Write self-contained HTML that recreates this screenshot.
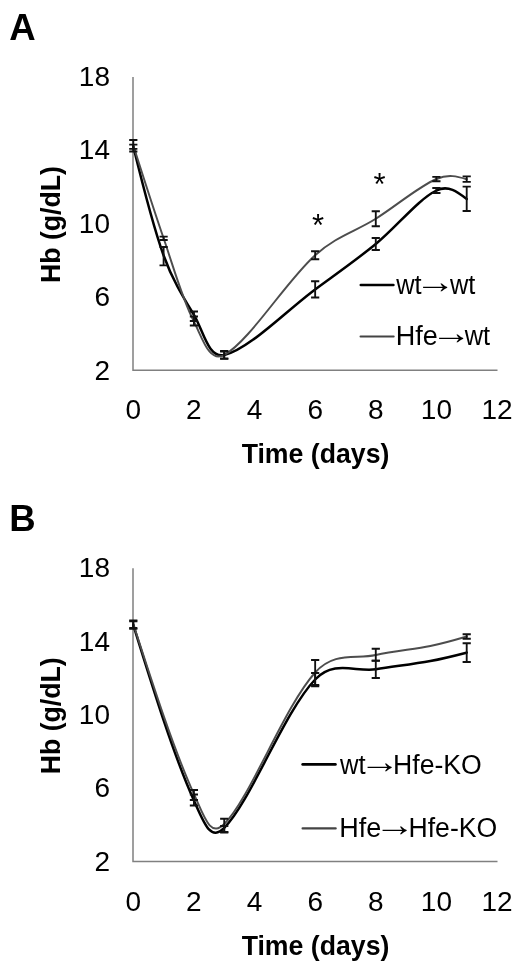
<!DOCTYPE html>
<html><head><meta charset="utf-8"><title>Figure</title>
<style>html,body{margin:0;padding:0;background:#fff}svg{display:block}</style></head>
<body>
<svg width="520" height="967" viewBox="0 0 520 967" font-family="'Liberation Sans', Arial, 'DejaVu Sans', sans-serif">
<rect width="520" height="967" fill="#fff"/>
<path d="M133.0,77.0V370.3H497.5" fill="none" stroke="#808080" stroke-width="1.5"/>
<text x="9.2" y="39.6" font-size="36.6" font-weight="bold" fill="#000">A</text>
<text x="110" y="85.7" font-size="28" text-anchor="end" fill="#000">18</text>
<text x="110" y="159.2" font-size="28" text-anchor="end" fill="#000">14</text>
<text x="110" y="232.6" font-size="28" text-anchor="end" fill="#000">10</text>
<text x="110" y="306.1" font-size="28" text-anchor="end" fill="#000">6</text>
<text x="110" y="379.5" font-size="28" text-anchor="end" fill="#000">2</text>
<text x="133.3" y="419.3" font-size="28" text-anchor="middle" fill="#000">0</text>
<text x="193.9" y="419.3" font-size="28" text-anchor="middle" fill="#000">2</text>
<text x="254.5" y="419.3" font-size="28" text-anchor="middle" fill="#000">4</text>
<text x="315.2" y="419.3" font-size="28" text-anchor="middle" fill="#000">6</text>
<text x="375.8" y="419.3" font-size="28" text-anchor="middle" fill="#000">8</text>
<text x="436.4" y="419.3" font-size="28" text-anchor="middle" fill="#000">10</text>
<text x="497.0" y="419.3" font-size="28" text-anchor="middle" fill="#000">12</text>
<text transform="translate(315.5,463.4) scale(0.953,1)" font-size="28" font-weight="bold" text-anchor="middle" fill="#000">Time (days)</text>
<text transform="translate(59.8,224.5) rotate(-90) scale(0.953,1)" font-size="28" font-weight="bold" text-anchor="middle" fill="#000">Hb (g/dL)</text>
<path d="M133.30,146.50C142.75,185.16 152.20,223.82 163.61,255.50C172.41,279.92 183.11,297.06 193.92,314.80C203.32,330.23 207.87,358.43 224.23,355.00C248.28,349.96 287.46,309.69 315.16,289.40C337.97,272.69 355.90,260.21 375.78,244.00C396.32,227.25 417.91,199.65 436.40,190.50C448.22,184.65 457.47,191.82 466.71,199.00" fill="none" stroke="#000" stroke-width="2.5" stroke-linecap="round" stroke-linejoin="round"/>
<path d="M133.30,145.50C143.28,176.88 153.26,208.25 163.61,238.30C173.47,266.92 182.18,298.90 193.92,321.50C202.38,337.80 209.06,363.30 224.23,355.00C249.47,341.20 285.96,281.46 315.16,255.20C336.47,236.04 355.70,231.37 375.78,218.75C396.11,205.97 418.14,186.94 436.40,179.00C448.45,173.76 457.58,176.48 466.71,179.20" fill="none" stroke="#4d4d4d" stroke-width="1.95" stroke-linecap="round" stroke-linejoin="round"/>
<path d="M133.30,144.60V151.50M129.20,144.60H137.40M129.20,151.50H137.40M163.61,247.00V265.40M159.51,247.00H167.71M159.51,265.40H167.71M193.92,311.50V321.00M189.82,311.50H198.02M189.82,321.00H198.02M224.23,351.00V358.80M220.13,351.00H228.33M220.13,358.80H228.33M315.16,281.25V297.50M311.06,281.25H319.26M311.06,297.50H319.26M375.78,238.00V250.00M371.68,238.00H379.88M371.68,250.00H379.88M436.40,188.00V193.00M432.30,188.00H440.50M432.30,193.00H440.50M466.71,186.60V211.00M462.61,186.60H470.81M462.61,211.00H470.81" fill="none" stroke="#111" stroke-width="1.85"/>
<path d="M133.30,140.00V148.80M129.20,140.00H137.40M129.20,148.80H137.40M163.61,236.60V240.00M159.51,236.60H167.71M159.51,240.00H167.71M193.92,316.50V325.50M189.82,316.50H198.02M189.82,325.50H198.02M224.23,351.50V358.50M220.13,351.50H228.33M220.13,358.50H228.33M315.16,251.25V259.25M311.06,251.25H319.26M311.06,259.25H319.26M375.78,211.25V226.25M371.68,211.25H379.88M371.68,226.25H379.88M436.40,176.80V181.20M432.30,176.80H440.50M432.30,181.20H440.50M466.71,176.30V181.80M462.61,176.30H470.81M462.61,181.80H470.81" fill="none" stroke="#111" stroke-width="1.85"/>
<text x="318" y="236" font-size="31" text-anchor="middle" fill="#000">*</text>
<text x="379.5" y="195" font-size="31" text-anchor="middle" fill="#000">*</text>
<path d="M360.85,285.00H393.35" stroke="#000" stroke-width="2.7" stroke-linecap="round" fill="none"/>
<text font-size="27" fill="#000"><tspan x="396.23" y="294.1" textLength="25.38" lengthAdjust="spacingAndGlyphs">wt</tspan><tspan x="414.78" y="293.1" font-size="34" textLength="40.80" lengthAdjust="spacingAndGlyphs">→</tspan><tspan x="449.93" y="294.1" textLength="25.38" lengthAdjust="spacingAndGlyphs">wt</tspan></text>
<path d="M360.50,336.40H393.70" stroke="#444" stroke-width="2.0" stroke-linecap="round" fill="none"/>
<text font-size="27" fill="#000"><tspan x="395.69" y="344.8">Hfe</tspan><tspan x="430.88" y="343.8" font-size="34" textLength="40.80" lengthAdjust="spacingAndGlyphs">→</tspan><tspan x="464.63" y="344.8" textLength="25.38" lengthAdjust="spacingAndGlyphs">wt</tspan></text>
<path d="M133.0,568.3V861.6H497.5" fill="none" stroke="#808080" stroke-width="1.5"/>
<text x="9.2" y="530.9" font-size="36.6" font-weight="bold" fill="#000">B</text>
<text x="110" y="577.0" font-size="28" text-anchor="end" fill="#000">18</text>
<text x="110" y="650.5" font-size="28" text-anchor="end" fill="#000">14</text>
<text x="110" y="723.9" font-size="28" text-anchor="end" fill="#000">10</text>
<text x="110" y="797.4" font-size="28" text-anchor="end" fill="#000">6</text>
<text x="110" y="870.8" font-size="28" text-anchor="end" fill="#000">2</text>
<text x="133.3" y="910.6" font-size="28" text-anchor="middle" fill="#000">0</text>
<text x="193.9" y="910.6" font-size="28" text-anchor="middle" fill="#000">2</text>
<text x="254.5" y="910.6" font-size="28" text-anchor="middle" fill="#000">4</text>
<text x="315.2" y="910.6" font-size="28" text-anchor="middle" fill="#000">6</text>
<text x="375.8" y="910.6" font-size="28" text-anchor="middle" fill="#000">8</text>
<text x="436.4" y="910.6" font-size="28" text-anchor="middle" fill="#000">10</text>
<text x="497.0" y="910.6" font-size="28" text-anchor="middle" fill="#000">12</text>
<text transform="translate(315.5,954.7) scale(0.953,1)" font-size="28" font-weight="bold" text-anchor="middle" fill="#000">Time (days)</text>
<text transform="translate(59.8,715.8) rotate(-90) scale(0.953,1)" font-size="28" font-weight="bold" text-anchor="middle" fill="#000">Hb (g/dL)</text>
<path d="M133.30,625.00C153.61,690.44 173.92,755.89 193.92,800.50C204.23,823.49 210.29,841.71 224.23,827.80C250.70,801.38 283.87,712.23 315.16,679.50C334.38,659.39 356.07,672.47 375.78,669.30C394.46,666.30 413.72,664.05 430.34,661.00C444.03,658.49 455.37,655.54 466.71,652.60" fill="none" stroke="#000" stroke-width="2.5" stroke-linecap="round" stroke-linejoin="round"/>
<path d="M133.30,624.00C153.69,687.19 174.08,750.37 193.92,794.00C204.39,817.04 210.20,838.06 224.23,824.00C250.61,797.56 283.92,707.34 315.16,672.50C334.44,651.01 355.95,659.56 375.78,655.00C394.34,650.73 413.74,649.38 430.34,646.00C444.05,643.21 455.38,639.86 466.71,636.50" fill="none" stroke="#4d4d4d" stroke-width="1.95" stroke-linecap="round" stroke-linejoin="round"/>
<path d="M133.30,621.30V628.80M129.20,621.30H137.40M129.20,628.80H137.40M193.92,794.50V805.50M189.82,794.50H198.02M189.82,805.50H198.02M224.23,826.00V832.50M220.13,826.00H228.33M220.13,832.50H228.33M315.16,673.00V686.25M311.06,673.00H319.26M311.06,686.25H319.26M375.78,660.60V678.00M371.68,660.60H379.88M371.68,678.00H379.88M466.71,643.25V662.00M462.61,643.25H470.81M462.61,662.00H470.81" fill="none" stroke="#111" stroke-width="1.85"/>
<path d="M133.30,620.30V627.80M129.20,620.30H137.40M129.20,627.80H137.40M193.92,790.00V800.00M189.82,790.00H198.02M189.82,800.00H198.02M224.23,818.75V832.00M220.13,818.75H228.33M220.13,832.00H228.33M315.16,660.00V685.00M311.06,660.00H319.26M311.06,685.00H319.26M375.78,648.75V660.75M371.68,648.75H379.88M371.68,660.75H379.88M466.71,634.25V638.75M462.61,634.25H470.81M462.61,638.75H470.81" fill="none" stroke="#111" stroke-width="1.85"/>
<path d="M302.75,764.40H335.35" stroke="#000" stroke-width="2.9" stroke-linecap="round" fill="none"/>
<text font-size="27" fill="#000"><tspan x="339.93" y="773.9" textLength="25.65" lengthAdjust="spacingAndGlyphs">wt</tspan><tspan x="359.18" y="772.9" font-size="34" textLength="40.80" lengthAdjust="spacingAndGlyphs">→</tspan><tspan x="393.12" y="773.9" textLength="88.67" lengthAdjust="spacingAndGlyphs">Hfe-KO</tspan></text>
<path d="M302.60,828.40H335.70" stroke="#444" stroke-width="2.2" stroke-linecap="round" fill="none"/>
<text font-size="27" fill="#000"><tspan x="339.29" y="836.9">Hfe</tspan><tspan x="374.18" y="835.9" font-size="34" textLength="40.80" lengthAdjust="spacingAndGlyphs">→</tspan><tspan x="408.52" y="836.9" textLength="88.67" lengthAdjust="spacingAndGlyphs">Hfe-KO</tspan></text>
</svg>
</body></html>
